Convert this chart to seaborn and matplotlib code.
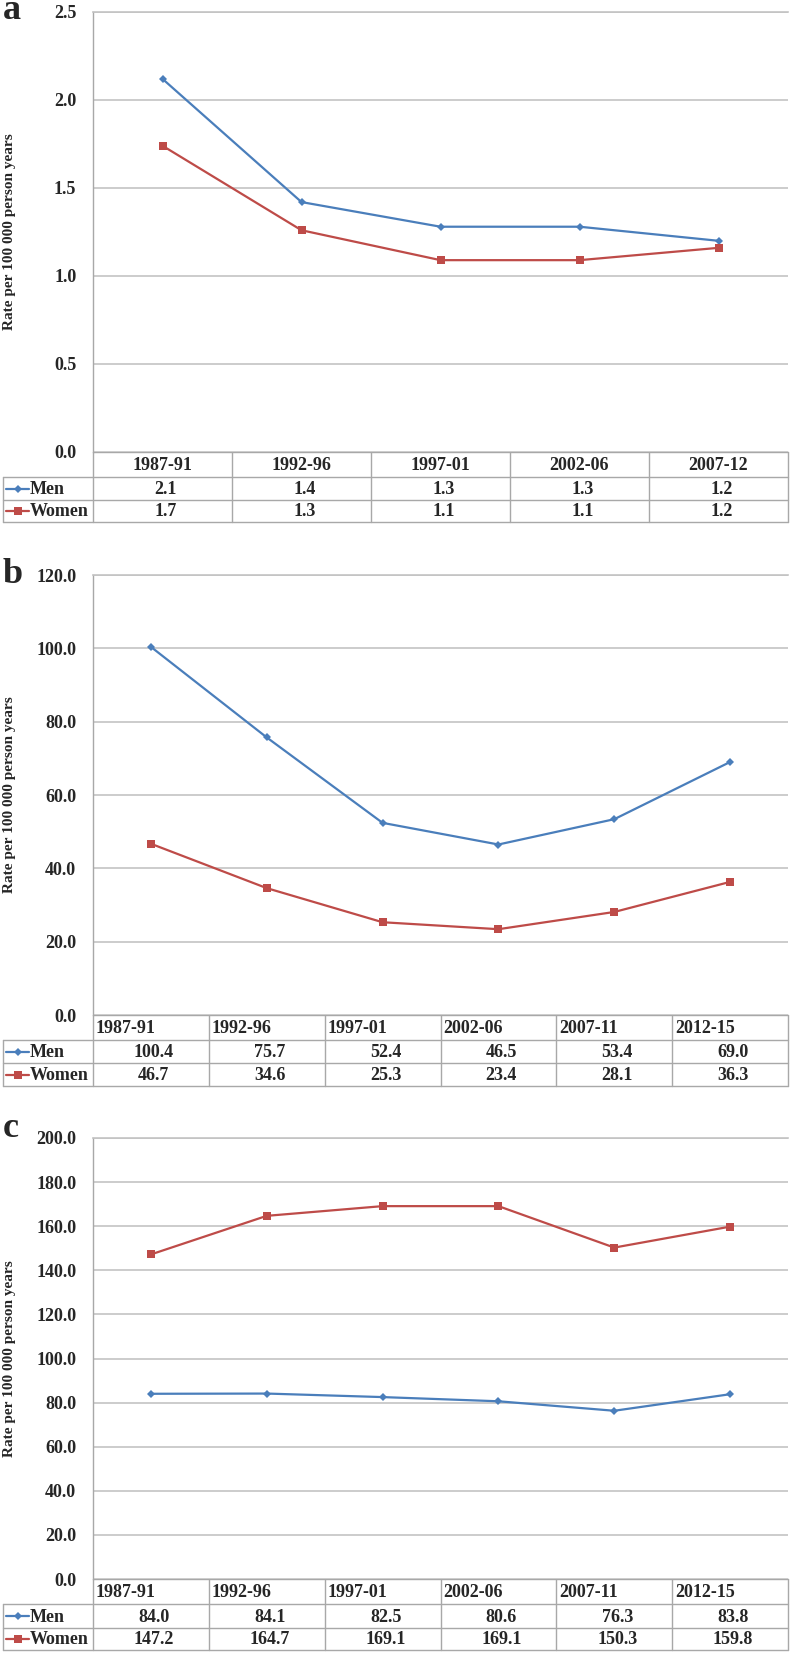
import numpy as np
import pandas as pd
import matplotlib
matplotlib.use("Agg")
import matplotlib.pyplot as plt
import seaborn as sns

# Data =================================================================================================================

periods_a = ["1987-91", "1992-96", "1997-01", "2002-06", "2007-12"]
men_a = [2.12, 1.42, 1.28, 1.28, 1.20]
women_a = [1.74, 1.26, 1.09, 1.09, 1.16]
yticks_a = [0.0, 0.5, 1.0, 1.5, 2.0, 2.5]

periods_bc = ["1987-91", "1992-96", "1997-01", "2002-06", "2007-11", "2012-15"]
men_b = [100.4, 75.7, 52.4, 46.5, 53.4, 69.0]
women_b = [46.7, 34.6, 25.3, 23.4, 28.1, 36.3]
yticks_b = [0.0, 20.0, 40.0, 60.0, 80.0, 100.0, 120.0]

men_c = [84.0, 84.1, 82.5, 80.6, 76.3, 83.8]
women_c = [147.2, 164.7, 169.1, 169.1, 150.3, 159.8]
yticks_c = [0.0, 20.0, 40.0, 60.0, 80.0, 100.0, 120.0, 140.0, 160.0, 180.0, 200.0]

# Style ================================================================================================================

sns.set_style("white")
plt.rcParams["font.family"] = ["Liberation Serif", "DejaVu Serif"]
plt.rcParams["font.weight"] = "bold"

W, H = 792, 1654
L, R = 93, 788
BLUE, RED = "#4A7EBB", "#BE4B48"
GRID, BORDER = "#C3C3C3", "#A8A8A8"

fig = plt.figure(figsize=(W / 100, H / 100), dpi=100)
fig.patch.set_facecolor("white")

over = fig.add_axes([0, 0, 1, 1])
over.set_xlim(0, W)
over.set_ylim(H, 0)
over.axis("off")
over.patch.set_alpha(0)


def draw_panel(letter, letter_base, periods, men, women, yticks, top, bottom, rows, header_align):
    n = len(periods)
    ax = fig.add_axes([L / W, 1 - bottom / H, (R - L) / W, (bottom - top) / H])
    df = pd.DataFrame({"x": np.arange(n), "Men": men, "Women": women})
    sns.lineplot(data=df, x="x", y="Men", color=BLUE, marker="D", markersize=4.5,
                 markeredgewidth=0, linewidth=1.6, ax=ax)
    sns.lineplot(data=df, x="x", y="Women", color=RED, marker="s", markersize=6,
                 markeredgewidth=0, linewidth=1.6, ax=ax)
    ax.set_xlim(-0.5, n - 0.5)
    ax.set_ylim(yticks[0], yticks[-1])
    ax.set_yticks(yticks)
    ax.set_yticklabels(["%.1f" % t for t in yticks], fontsize=13, fontweight="bold")
    ax.set_xticks([])
    ax.set_xlabel("")
    ax.set_ylabel("")
    ax.yaxis.grid(True, color=GRID, linewidth=1.2)
    ax.tick_params(axis="y", length=0, pad=12)
    for s in ["right", "bottom"]:
        ax.spines[s].set_visible(False)
    ax.spines["top"].set_color(GRID)
    ax.spines["top"].set_linewidth(1.2)
    ax.spines["left"].set_color(BORDER)
    ax.spines["left"].set_linewidth(1.0)

    # panel letter and y label
    over.text(3, letter_base, letter, fontsize=26, fontweight="bold", va="baseline", ha="left")
    over.text(10, (top + bottom) / 2, "Rate per 100 000 person years", rotation=90,
              fontsize=11, fontweight="bold", ha="center", va="center")

    # data table under the plot
    colw = (R - L) / n
    y0 = bottom
    y1 = y0 + rows[0]
    y2 = y1 + rows[1]
    y3 = y2 + rows[2]
    lw = 1.0
    over.plot([L, R], [y0, y0], color=BORDER, lw=lw)
    over.plot([3, R], [y1, y1], color=BORDER, lw=lw)
    over.plot([3, R], [y2, y2], color=BORDER, lw=lw)
    over.plot([3, R], [y3, y3], color=BORDER, lw=lw)
    over.plot([3, 3], [y1, y3], color=BORDER, lw=lw)
    for k in range(n + 1):
        over.plot([L + k * colw] * 2, [y0, y3], color=BORDER, lw=lw)

    for k, p in enumerate(periods):
        if header_align == "center":
            over.text(L + (k + 0.5) * colw, (y0 + y1) / 2 + 1, p, fontsize=13,
                      fontweight="bold", ha="center", va="center")
        else:
            over.text(L + k * colw + 3, (y0 + y1) / 2 + 1, p, fontsize=13,
                      fontweight="bold", ha="left", va="center")
        over.text(L + (k + 0.5) * colw + 3, (y1 + y2) / 2 + 1, "%.1f" % men[k], fontsize=13,
                  fontweight="bold", ha="center", va="center")
        over.text(L + (k + 0.5) * colw + 3, (y2 + y3) / 2 + 1, "%.1f" % women[k], fontsize=13,
                  fontweight="bold", ha="center", va="center")

    for (ya, yb), lab, col, mk, ms in [((y1, y2), "Men", BLUE, "D", 4), ((y2, y3), "Women", RED, "s", 5.5)]:
        yc = (ya + yb) / 2
        over.plot([6, 29], [yc, yc], color=col, lw=1.6)
        over.plot([17.5], [yc], color=col, marker=mk, markersize=ms, markeredgewidth=0)
        over.text(30, yc + 1, lab, fontsize=13, fontweight="bold", ha="left", va="center")


draw_panel("a", 19, periods_a, men_a, women_a, yticks_a, 12, 452, (25, 23, 22), "center")
draw_panel("b", 583, periods_bc, men_b, women_b, yticks_b, 575, 1015, (25, 23, 23), "left")
draw_panel("c", 1137, periods_bc, men_c, women_c, yticks_c, 1138, 1579, (25, 24, 22), "left")

fig.savefig("out.png", dpi=100, facecolor="white")
